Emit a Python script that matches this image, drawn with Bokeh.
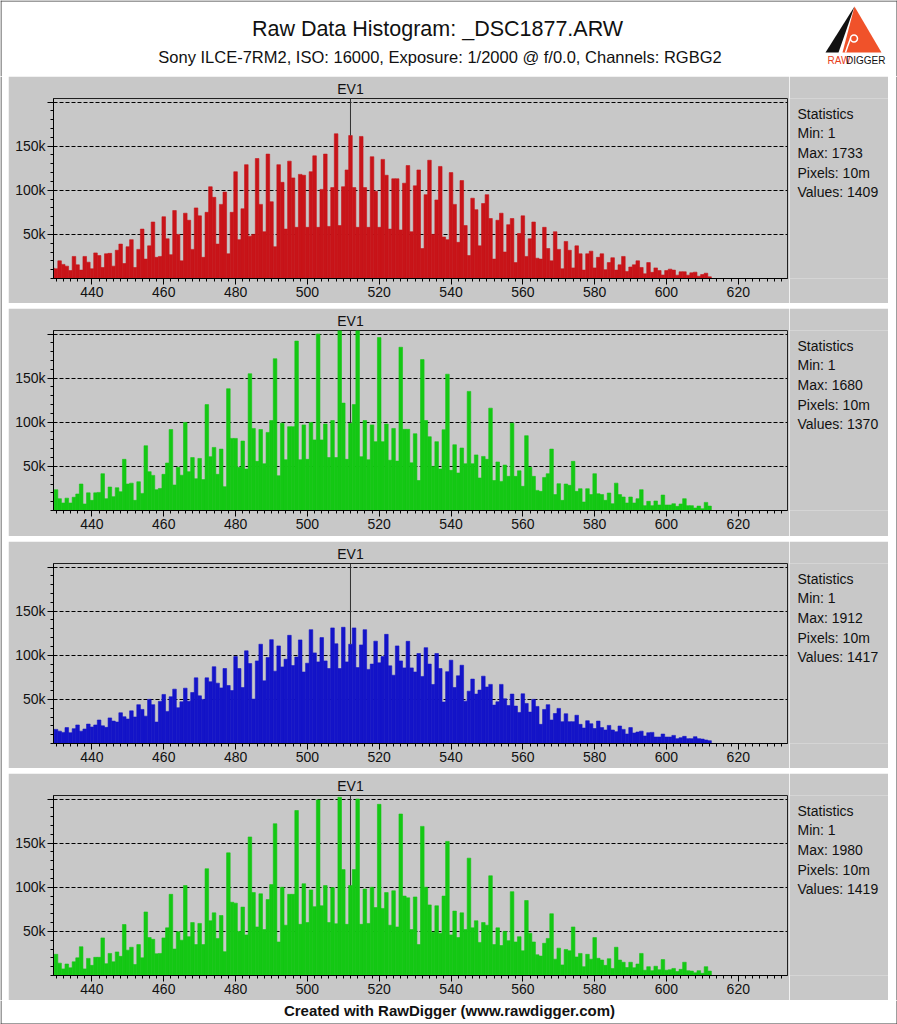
from bokeh.plotting import figure
from bokeh.models import Range1d, FixedTicker, Title
from bokeh.layouts import column, row
from bokeh.core.properties import value
from bokeh.embed import file_html
from bokeh.resources import INLINE

FONT = "Liberation Sans"
GREY = "#C8C8C8"
BORDER = "#3C3C3C"
TXT = "#111111"

# raw levels (DN) 429..612
levels = list(range(429, 613))

red = [12000, 11000, 20000, 16000, 14000, 9000, 25000, 15500, 9500, 25000,
       18500, 11000, 29000, 26000, 12500, 28000, 28500, 14000, 32000, 39000,
       17000, 36000, 44000, 12500, 33000, 56000, 22000, 37000, 64000, 24000,
       25000, 70000, 45000, 27000, 77000, 50000, 20000, 74000, 66000, 33000,
       80000, 71000, 24000, 75000, 104000, 92000, 39000, 84000, 98000, 28000,
       75000, 121000, 44000, 79000, 129000, 48000, 50000, 136000, 84000, 53000,
       141000, 87000, 36000, 129000, 109000, 56000, 133000, 114000, 58000, 118000,
       117000, 58000, 121000, 139000, 58000, 101000, 141000, 59000, 103000, 164000,
       60000, 104000, 123000, 162000, 103000, 58000, 161000, 103000, 58000, 138000,
       99000, 58000, 135000, 117000, 56000, 113000, 113000, 55000, 108000, 128000,
       53000, 105000, 123000, 34000, 95000, 134000, 50000, 89000, 127000, 47000,
       44000, 120000, 84000, 41000, 111000, 60000, 26000, 91000, 78000, 37000,
       85000, 95000, 68000, 22000, 66000, 74000, 30000, 61000, 68000, 18000,
       51000, 71000, 25000, 45000, 64000, 23000, 22000, 58000, 34000, 20000,
       53000, 33000, 11000, 42000, 32000, 12000, 37000, 28000, 9500, 28000,
       31000, 12000, 24000, 28000, 10000, 18000, 23500, 9500, 15500, 25000,
       8000, 13000, 15500, 20000, 12500, 5300, 18000, 7000, 12000, 9000,
       4000, 9000, 10600, 9500, 3800, 7600, 7600, 3800, 6400, 7200,
       2600, 4500, 6000, 1900]

green = [22000, 23600, 13400, 8500, 14000, 8500, 15000, 18700, 30000, 7400,
         20000, 11500, 20000, 20500, 41700, 13400, 26600, 15700, 25800, 21300,
         58000, 30000, 31000, 11500, 32600, 19400, 73400, 44000, 39800, 23600,
         25000, 41000, 53800, 91800, 28900, 49000, 40000, 99800, 44000, 60000,
         36000, 59000, 35000, 120000, 61000, 71500, 41000, 69600, 27000, 138000,
         81700, 81700, 49000, 78700, 47000, 155000, 93000, 55700, 91800, 53000,
         88500, 102000, 172000, 39400, 99000, 57500, 95000, 95000, 192000, 57500,
         97000, 58000, 99800, 80000, 200000, 80000, 98000, 60000, 102000, 60000,
         210000, 121700, 58000, 99000, 120000, 205000, 61000, 102000, 57500, 97000,
         78000, 196000, 78000, 98000, 57000, 93000, 56000, 185000, 92000, 92000,
         54000, 87000, 34000, 171000, 102000, 83600, 50000, 78000, 47000, 91500,
         154500, 45500, 74500, 42500, 70800, 53000, 135000, 53000, 63000, 36800,
         61300, 58000, 116000, 34000, 55000, 33000, 51500, 38700, 99000, 38700,
         45000, 27400, 84800, 49000, 38700, 22800, 21700, 37500, 41700, 69600,
         18000, 30400, 11500, 30000, 28500, 55700, 21700, 24700, 9600, 24700,
         18000, 41700, 19000, 18000, 11500, 19800, 7700, 31000, 18000, 15300,
         8500, 15300, 8500, 13400, 23600, 5500, 10400, 5500, 10800, 6200,
         17500, 6200, 6200, 7700, 4700, 7400, 13400, 5500, 5500, 2800,
         5000, 2000, 9200, 5000]

blue = [16000, 16000, 14000, 12600, 18000, 12200, 16800, 21000, 14000, 16400,
        22000, 18700, 21000, 26600, 20000, 18300, 29000, 25400, 24300, 34800,
        30300, 27700, 37000, 30000, 44000, 38600, 31000, 50000, 44000, 24300,
        47700, 55600, 36400, 53000, 61600, 40500, 47300, 62700, 48000, 57800,
        74400, 54000, 50000, 74400, 70000, 87000, 68400, 63000, 85000, 65700,
        60000, 98500, 85000, 63500, 105000, 90600, 50300, 93600, 112500, 71000,
        97400, 117700, 82000, 110600, 86800, 95500, 122600, 88300, 98000, 117400,
        81000, 91000, 129000, 102700, 92500, 120000, 93600, 85000, 131000, 113000,
        85000, 131700, 92500, 112500, 131000, 86000, 111700, 129000, 84000, 90000,
        116000, 91400, 98500, 123700, 88000, 77400, 110600, 93600, 85700, 115800,
        85700, 81000, 102000, 76000, 108600, 90000, 66900, 102000, 85000, 47000,
        81400, 94400, 63500, 76700, 88700, 48000, 59300, 73000, 56000, 60500,
        76300, 64000, 67000, 43500, 47300, 67000, 50700, 43000, 56000, 42400,
        35200, 56300, 45400, 35600, 50000, 42000, 21700, 38600, 44000, 26600,
        34000, 39800, 24700, 33700, 24700, 24700, 32000, 21700, 17500, 25800,
        22400, 17000, 25400, 18000, 15300, 20500, 15300, 13400, 19800, 16000,
        10700, 18000, 11900, 13000, 14000, 8500, 12200, 12600, 7300, 7300,
        10700, 7300, 7300, 9200, 5500, 6600, 8100, 5500, 5500, 7700,
        5500, 5000, 4000, 3200]

green2 = [22000, 24000, 14000, 7500, 13000, 8700, 15500, 20000, 32600, 7500,
          19400, 11500, 20600, 20600, 42600, 13400, 25000, 15500, 26700, 21700,
          57800, 28700, 32000, 12500, 35000, 20000, 72000, 43000, 41000, 24600,
          25000, 42600, 54000, 92000, 30000, 49500, 40000, 102000, 44000, 60000,
          35000, 59000, 35000, 121000, 62000, 71000, 42000, 68000, 27000, 139000,
          83000, 82000, 50000, 77500, 46000, 157000, 94000, 55000, 92600, 52000,
          86000, 103000, 172000, 38000, 100000, 57000, 92000, 92000, 187000, 58000,
          104000, 60000, 97000, 78000, 199000, 79000, 102000, 60000, 99600, 58600,
          202000, 120000, 58000, 102000, 120000, 200000, 58000, 98000, 59000, 100000,
          77000, 194000, 76000, 94000, 57000, 96000, 55000, 183000, 90000, 88000,
          52000, 89000, 35000, 169000, 100000, 80000, 49000, 79000, 48000, 90000,
          152000, 46000, 73000, 43000, 71000, 52000, 133000, 54000, 62000, 37500,
          60000, 57000, 113000, 35000, 54000, 34000, 50000, 39500, 95000, 38000,
          44000, 28000, 85000, 48000, 38000, 23500, 22000, 36500, 42000, 70000,
          18500, 31000, 12000, 29500, 28000, 55000, 21000, 25000, 10000, 24000,
          18500, 43000, 19500, 17500, 11500, 19000, 8000, 32000, 17500, 15000,
          9000, 15000, 8800, 13000, 25000, 6000, 10000, 5500, 10500, 6500,
          18000, 6000, 6500, 8000, 4500, 7000, 15000, 5500, 5000, 3000,
          5500, 2500, 10000, 5000]

channels = [
    {"vals": red, "color": "#C81419", "max": "1733", "values": "1409"},
    {"vals": green, "color": "#14C814", "max": "1680", "values": "1370"},
    {"vals": blue, "color": "#1414C8", "max": "1912", "values": "1417"},
    {"vals": green2, "color": "#14C814", "max": "1980", "values": "1419"},
]
panel_heights = [227, 228, 227, 227]
ytick_labels = {50000: "50k", 100000: "100k", 150000: "150k", 200000: ""}

XMIN, XMAX = 429.3, 633.7
YMAX = 204000
EV1 = 512
FRAME_TOP, FRAME_H = 22, 180


def blank(width, height, xr, yr):
    f = figure(width=width, height=height, x_range=Range1d(*xr), y_range=Range1d(*yr),
               output_backend="svg", toolbar_location=None, min_border=0,
               x_axis_type=None, y_axis_type=None)
    f.grid.visible = False
    f.outline_line_color = None
    f.background_fill_color = "white"
    f.border_fill_color = "white"
    return f


def make_plot(ch, height):
    p = figure(width=781, height=height, x_range=Range1d(XMIN, XMAX),
               y_range=Range1d(0, YMAX), output_backend="svg",
               toolbar_location=None, min_border_left=45, min_border_right=2,
               min_border_top=FRAME_TOP, min_border_bottom=height - FRAME_TOP - FRAME_H)
    p.background_fill_color = GREY
    p.border_fill_color = GREY
    p.outline_line_color = "#202020"
    p.outline_line_width = 1
    p.vbar(x=levels, top=ch["vals"], bottom=0, width=1.0,
           fill_color=ch["color"], line_color=ch["color"], line_width=0.6)
    ev_top = ch["vals"][levels.index(EV1)]
    p.segment(x0=[EV1], x1=[EV1], y0=[YMAX], y1=[ev_top],
              line_color="#303030", line_width=1)

    p.xaxis.ticker = FixedTicker(ticks=list(range(440, 621, 20)),
                                 minor_ticks=list(range(430, 634, 2)))
    p.yaxis.ticker = FixedTicker(ticks=[50000, 100000, 150000, 200000],
                                 minor_ticks=list(range(0, 204001, 10000)))
    p.yaxis.major_label_overrides = ytick_labels
    for ax in (p.xaxis[0], p.yaxis[0]):
        ax.axis_line_color = "black"
        ax.major_tick_line_color = "black"
        ax.minor_tick_line_color = "black"
        ax.major_tick_in = 0
        ax.minor_tick_in = 0
        ax.major_tick_out = 6
        ax.minor_tick_out = 3
        ax.major_label_text_font = FONT
        ax.major_label_text_font_size = "14px"
        ax.major_label_text_color = TXT
        ax.major_label_standoff = 2
    p.xgrid.visible = False
    p.ygrid.grid_line_color = "black"
    p.ygrid.grid_line_dash = "4 2"
    p.ygrid.grid_line_width = 1

    # EV1 marker caption above the frame, centred on level 512
    p.title = Title(text="EV1", align="left", offset=(EV1 - XMIN) * 734 / (XMAX - XMIN) - 13.2,
                    standoff=4, vertical_align="bottom", text_font=FONT,
                    text_font_size="14px", text_font_style="normal", text_color=TXT)
    return p


def make_stats(ch, height):
    # frame of this figure is aligned by the row layout with the plot frame,
    # so its y range is expressed in panel pixels of that frame (22..202)
    s = figure(width=99, height=height, x_range=Range1d(789, 888),
               y_range=Range1d(FRAME_TOP + FRAME_H, FRAME_TOP),
               output_backend="svg", toolbar_location=None, min_border=0,
               x_axis_type=None, y_axis_type=None)
    s.grid.visible = False
    s.outline_line_color = None
    s.background_fill_color = GREY
    s.border_fill_color = GREY
    lines = ["Statistics", "Min: 1", "Max: " + ch["max"], "Pixels: 10m",
             "Values: " + ch["values"]]
    s.text(x=[797] * len(lines), y=[37.3 + 19.6 * i for i in range(len(lines))],
           text=lines, text_align="left", text_baseline="middle",
           text_font=value(FONT), text_font_size="14px", text_color=TXT)
    return s


# header
hdr = blank(897, 76, (0, 897), (76, 0))
hdr.segment(x0=[0, 0.5, 896.5], y0=[0.5, 0, 0], x1=[897, 0.5, 896.5], y1=[0.5, 76, 76],
            line_color=BORDER, line_width=1)
hdr.text(x=[437], y=[28], text=["Raw Data Histogram: _DSC1877.ARW"],
         text_align="center", text_baseline="middle",
         text_font=value(FONT), text_font_size="21.5px", text_color=TXT)
hdr.text(x=[439.5], y=[56],
         text=["Sony ILCE-7RM2, ISO: 16000, Exposure: 1/2000 @ f/0.0, Channels: RGBG2"],
         text_align="center", text_baseline="middle",
         text_font=value(FONT), text_font_size="16.5px", text_color=TXT)
# logo
hdr.patch(x=[854, 825, 838], y=[6, 52, 52], fill_color="#111111", line_color=None)
hdr.patch(x=[854, 842, 881], y=[6, 52, 52], fill_color="#F0522A", line_color=None)
hdr.circle(x=[853.5], y=[38], radius=3.5, fill_color=None, line_color="white", line_width=1.5)
hdr.line(x=[850, 847, 845], y=[38, 46, 52], line_color="white", line_width=1.5)
hdr.text(x=[827], y=[59.5], text=["RAW"], text_align="left", text_baseline="middle",
         text_font=value(FONT), text_font_size="10px", text_color="#E8401C")
hdr.text(x=[845.5], y=[59.5], text=["DIGGER"], text_align="left", text_baseline="middle",
         text_font=value(FONT), text_font_size="10px", text_color=TXT)

rows = [row(make_plot(ch, h), make_stats(ch, h)) for ch, h in zip(channels, panel_heights)]
mid_h = sum(panel_heights) + 5 * (len(panel_heights) - 1)

left = blank(8, mid_h, (0, 8), (mid_h, 0))
left.segment(x0=[0.5], y0=[0], x1=[0.5], y1=[mid_h], line_color=BORDER, line_width=1)
right = blank(9, mid_h, (888, 897), (mid_h, 0))
right.segment(x0=[896.5], y0=[0], x1=[896.5], y1=[mid_h], line_color=BORDER, line_width=1)

ftr = blank(897, 24, (0, 897), (1024, 1000))
ftr.segment(x0=[0.5, 896.5, 0], y0=[1000, 1000, 1023.5], x1=[0.5, 896.5, 897], y1=[1024, 1024, 1023.5],
            line_color=BORDER, line_width=1)
ftr.text(x=[449], y=[1010], text=["Created with RawDigger (www.rawdigger.com)"],
         text_align="center", text_baseline="middle",
         text_font=value(FONT), text_font_size="15px", text_font_style="bold",
         text_color=TXT)

layout = column(hdr, row(left, column(*rows, spacing=5), right), ftr)

open("out.html", "w").write(file_html(layout, INLINE))
